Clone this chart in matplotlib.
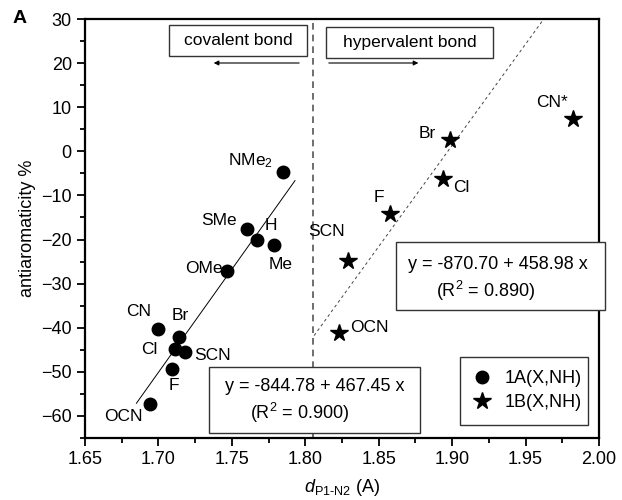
import matplotlib
matplotlib.use("Agg")
import matplotlib.pyplot as plt
from matplotlib.patches import Rectangle
import numpy as np

plt.rcParams['font.family'] = ['Liberation Sans', 'DejaVu Sans']
plt.rcParams['mathtext.fontset'] = 'custom'
plt.rcParams['mathtext.rm'] = 'Liberation Sans'
plt.rcParams['mathtext.it'] = 'Liberation Sans:italic'

# ---- data ----
labels_1A = ['NMe$_2$', 'SMe', 'H', 'Me', 'OMe', 'CN', 'Br', 'Cl', 'SCN', 'F', 'OCN']
x_1A = [1.7846, 1.760, 1.767, 1.779, 1.747, 1.700, 1.714, 1.711, 1.718, 1.709, 1.6945]
y_1A = [-4.6, -17.6, -20.0, -21.3, -27.1, -40.2, -42.1, -44.9, -45.6, -49.4, -57.4]

labels_1B = ['CN*', 'Br', 'Cl', 'F', 'SCN', 'OCN']
x_1B = [1.9825, 1.8985, 1.8936, 1.858, 1.829, 1.823]
y_1B = [7.3, 2.5, -6.3, -14.2, -24.8, -41.3]

fit_1A = (-844.78, 467.45, 0.900)
fit_1B = (-870.70, 458.98, 0.890)
fit_1A_range = [1.685, 1.793]
fit_1B_range = [1.806, 1.962]
boundary_x = 1.805

series_names = ['1A(X,NH)', '1B(X,NH)']
xticks = [1.65, 1.70, 1.75, 1.80, 1.85, 1.90, 1.95, 2.00]
yticks = [-60, -50, -40, -30, -20, -10, 0, 10, 20, 30]

# label placement (pixel offsets, alignment)
off_1A = [(-10, 11, 'right'), (-10, 8, 'right'), (8, 14, 'left'), (6, -19, 'center'),
          (-5, 2, 'right'), (-7, 17, 'right'), (1, 21, 'center'), (-17, 0, 'right'),
          (9, -3, 'left'), (2, -16, 'center'), (-8, -12, 'right')]
off_1B = [(-5, 17, 'right'), (-14, 7, 'right'), (10, -8, 'left'), (-12, 16, 'center'),
          (-3, 29, 'right'), (11, 6, 'left')]

fig = plt.figure(figsize=(6.22, 5.0), dpi=100)
ax = fig.add_axes([85/622, 1-438/500, 514/622, 419/500])
ax.set_xlim(1.65, 2.00)
ax.set_ylim(-65, 30)

l1, = ax.plot(x_1A, y_1A, 'o', color='black', ms=9, zorder=3, label=series_names[0])
l2, = ax.plot(x_1B, y_1B, '*', color='black', ms=13, zorder=3, label=series_names[1])

fs_lab = 12.5
for lab, x, y, (dx, dy, ha) in zip(labels_1A, x_1A, y_1A, off_1A):
    ax.annotate(lab, (x, y), xytext=(dx, dy), textcoords='offset pixels',
                ha=ha, va='center', fontsize=fs_lab)
for lab, x, y, (dx, dy, ha) in zip(labels_1B, x_1B, y_1B, off_1B):
    ax.annotate(lab, (x, y), xytext=(dx, dy), textcoords='offset pixels',
                ha=ha, va='center', fontsize=fs_lab)

# fit lines
xa = np.array(fit_1A_range)
ax.plot(xa, fit_1A[0] + fit_1A[1]*xa, color='black', lw=0.7, zorder=2)
xb = np.array(fit_1B_range)
ax.plot(xb, fit_1B[0] + fit_1B[1]*xb, color='#444444', lw=0.7, dashes=(3, 3), zorder=2)

# boundary
ax.axvline(boundary_x, color='#555555', lw=1.2, dashes=(4, 3), zorder=1)

# annotation boxes
def box(x0, x1, y0, y1):
    r = Rectangle((x0, y0), x1-x0, y1-y0, transform=ax.transAxes, fill=True,
                  facecolor='white', edgecolor='#333333', lw=1.0, clip_on=False, zorder=4)
    ax.add_patch(r)

box(0.163, 0.432, 0.912, 0.986)
ax.text((0.163+0.432)/2, 0.949, 'covalent bond', transform=ax.transAxes,
        ha='center', va='center', fontsize=12.5, zorder=5)
box(0.469, 0.794, 0.907, 0.981)
ax.text((0.469+0.794)/2, 0.944, 'hypervalent bond', transform=ax.transAxes,
        ha='center', va='center', fontsize=12.5, zorder=5)
ax.annotate('', xy=(0.245, 0.895), xytext=(0.422, 0.895), xycoords='axes fraction',
            arrowprops=dict(arrowstyle='-|>', color='black', lw=0.8, mutation_scale=7))
ax.annotate('', xy=(0.654, 0.895), xytext=(0.469, 0.895), xycoords='axes fraction',
            arrowprops=dict(arrowstyle='-|>', color='black', lw=0.8, mutation_scale=7))

box(0.241, 0.652, 0.012, 0.169)
ax.text(0.272, 0.122, f'y = {fit_1A[0]:.2f} + {fit_1A[1]:.2f} x', transform=ax.transAxes,
        ha='left', va='center', fontsize=13, zorder=5)
ax.text(0.321, 0.060, f'(R$^2$ = {fit_1A[2]:.3f})', transform=ax.transAxes,
        ha='left', va='center', fontsize=13, zorder=5)

box(0.605, 1.0117, 0.305, 0.468)
ax.text(0.629, 0.415, f'y = {fit_1B[0]:.2f} + {fit_1B[1]:.2f} x', transform=ax.transAxes,
        ha='left', va='center', fontsize=13, zorder=5)
ax.text(0.683, 0.351, f'(R$^2$ = {fit_1B[2]:.3f})', transform=ax.transAxes,
        ha='left', va='center', fontsize=13, zorder=5)

leg = ax.legend(handles=[l1, l2], loc='lower left', bbox_to_anchor=(0.712, 0.0095, 0.284, 0.17),
                mode='expand', fancybox=False, edgecolor='#333333', framealpha=1,
                fontsize=13, handletextpad=0.8, borderpad=0.75, labelspacing=0.4,
                handlelength=0.9)
leg.get_frame().set_linewidth(1.0)
leg.set_zorder(6)

# axes styling
ax.set_xticks(xticks)
ax.set_xticklabels([f'{t:.2f}' for t in xticks])
ax.set_yticks(yticks)
ax.set_xticks(np.arange(1.675, 2.0, 0.05), minor=True)
ax.set_yticks(np.arange(-65, 31, 5), minor=True)
ax.tick_params(which='major', direction='out', length=6, width=1.3, labelsize=13)
ax.tick_params(which='minor', direction='out', length=3.5, width=1.3)
for s in ax.spines.values():
    s.set_linewidth(1.6)

ax.set_ylabel('antiaromaticity %', fontsize=13, labelpad=4)
ax.set_xlabel(r'$d_{\text{P1-N2}}$ (A)', fontsize=13, labelpad=6)

fig.text(0.02, 0.963, 'A', fontsize=14, fontweight='bold', ha='left', va='center')

fig.savefig('out.png', dpi=100)
